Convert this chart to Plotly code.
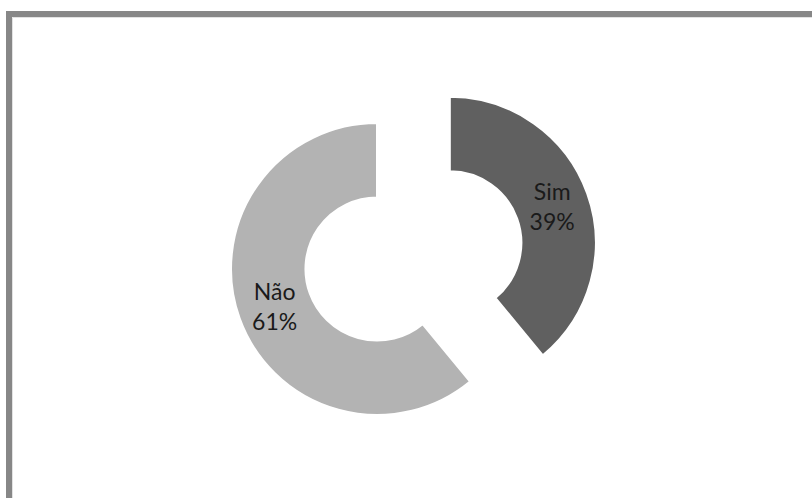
import plotly.graph_objects as go

labels = ["Sim", "Não"]
values = [39, 61]
colors = ["#606060", "#b3b3b3"]
pulls = [0.53, 0]

W, H = 812, 498

fig = go.Figure(go.Pie(
    labels=labels,
    values=values,
    hole=0.49,
    sort=False,
    direction="clockwise",
    rotation=0,
    pull=pulls,
    marker=dict(colors=colors, line=dict(color="#ffffff", width=2)),
    textinfo="label+percent",
    texttemplate="%{label}<br>%{percent:.0%}",
    textposition="inside",
    insidetextorientation="auto",
    textfont=dict(family="Lato", size=23, color="#1a1a1a"),
    domain=dict(x=[0.1892, 0.7394], y=[0.01125, 0.9084]),
    showlegend=False,
    hoverinfo="skip",
))

fig.update_layout(
    width=W, height=H,
    margin=dict(l=0, r=0, t=0, b=0),
    paper_bgcolor="#ffffff",
    plot_bgcolor="#ffffff",
    showlegend=False,
    shapes=[
        dict(type="rect", xref="paper", yref="paper",
             x0=9 / W, x1=1.05, y0=-0.05, y1=1 - 14 / H,
             line=dict(color="#878787", width=6), fillcolor="rgba(0,0,0,0)", layer="above"),
        dict(type="rect", xref="paper", yref="paper",
             x0=12.5 / W, x1=1.05, y0=-0.05, y1=1 - 17.5 / H,
             line=dict(color="#e2e2e2", width=1), fillcolor="rgba(0,0,0,0)", layer="above"),
    ],
)

fig.write_html("out.html")
